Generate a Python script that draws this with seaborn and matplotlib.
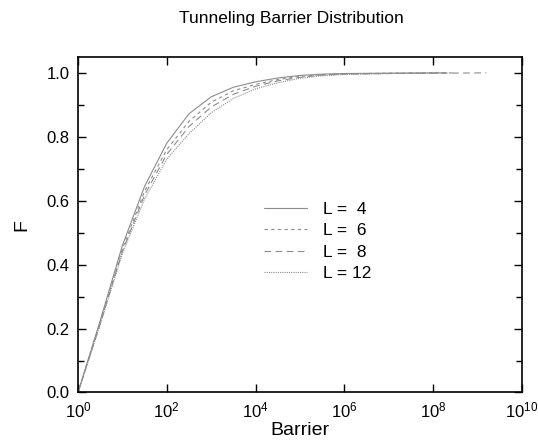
import matplotlib
matplotlib.use("Agg")
import matplotlib.pyplot as plt
import seaborn as sns
import pandas as pd
import numpy as np
from matplotlib.ticker import FixedLocator, MultipleLocator, FormatStrFormatter

# log10(barrier) sample points per system size
logb_4 = [0, 0.5, 1.0, 1.5, 2.0, 2.5, 3.0, 3.5, 4.0, 4.5, 5.0, 5.5, 6.0, 7.0, 8.3]
f_4 = [0.0, 0.225, 0.46, 0.645, 0.78, 0.872, 0.925, 0.955, 0.972, 0.984, 0.992, 0.996, 0.998, 0.999, 1.0]

logb_6 = [0, 0.5, 1.0, 1.5, 2.0, 2.5, 3.0, 3.5, 4.0, 4.5, 5.0, 5.5, 6.0, 7.0, 8.5]
f_6 = [0.0, 0.218, 0.449, 0.63, 0.76, 0.848, 0.908, 0.944, 0.964, 0.979, 0.989, 0.994, 0.997, 0.999, 1.0]

logb_8 = [0, 0.5, 1.0, 1.5, 2.0, 2.5, 3.0, 3.5, 4.0, 4.5, 5.0, 5.5, 6.0, 7.0, 8.0, 9.2]
f_8 = [0.0, 0.215, 0.442, 0.618, 0.745, 0.832, 0.893, 0.933, 0.958, 0.975, 0.986, 0.993, 0.996, 0.998, 0.999, 1.0]

logb_12 = [0, 0.5, 1.0, 1.5, 2.0, 2.5, 3.0, 3.5, 4.0, 4.5, 5.0, 5.5, 6.0, 7.0, 8.1]
f_12 = [0.0, 0.212, 0.435, 0.605, 0.73, 0.81, 0.875, 0.92, 0.95, 0.969, 0.983, 0.991, 0.995, 0.998, 1.0]

labels = ["L =  4", "L =  6", "L =  8", "L = 12"]
decades = [0, 2, 4, 6, 8, 10]

frames = []
for lab, lx, fv in zip(labels, [logb_4, logb_6, logb_8, logb_12], [f_4, f_6, f_8, f_12]):
    frames.append(pd.DataFrame({"barrier": 10.0 ** np.array(lx), "F": fv, "size": lab}))
df = pd.concat(frames, ignore_index=True)

sns.set_style("ticks")
plt.rcParams["font.family"] = ["Liberation Sans", "DejaVu Sans"]
plt.rcParams["mathtext.fontset"] = "custom"
plt.rcParams["mathtext.rm"] = "Liberation Sans"
plt.rcParams["mathtext.it"] = "Liberation Sans"

fig = plt.figure(figsize=(5.38, 4.41), dpi=100)
ax = fig.add_axes([0.145, 0.110, 0.825, 0.761])

dashes = {labels[0]: "", labels[1]: (3, 3), labels[2]: (6, 4), labels[3]: (1, 1)}
palette = {lab: "#8c8c8c" for lab in labels}
sns.lineplot(data=df, x="barrier", y="F", hue="size", style="size",
             palette=palette, dashes=dashes, linewidth=0.8, ax=ax, sort=False)

ax.set_xscale("log")
ax.set_xlim(1, 1e10)
ax.set_ylim(0, 1.05)
ax.xaxis.set_major_locator(FixedLocator([10.0 ** k for k in decades]))
ax.xaxis.set_minor_locator(FixedLocator([]))
ax.set_xticklabels([r"$\mathregular{10^{%d}}$" % k for k in decades])
ax.yaxis.set_major_locator(MultipleLocator(0.2))
ax.yaxis.set_minor_locator(MultipleLocator(0.1))
ax.yaxis.set_major_formatter(FormatStrFormatter("%.1f"))
ax.tick_params(which="both", direction="in", top=True, right=True, labelsize=12,
               pad=6, color="black", labelcolor="black")
ax.tick_params(which="major", length=6, width=1)
ax.tick_params(which="minor", length=4, width=1)
for s in ax.spines.values():
    s.set_linewidth(1.2)
    s.set_color("black")

ax.set_xlabel("Barrier", fontsize=14, labelpad=1, color="black")
ax.set_ylabel("F", fontsize=14, labelpad=12, color="black")
fig.text(291 / 538, 1 - 18 / 441, "Tunneling Barrier Distribution", ha="center", va="center",
         fontsize=12.5, color="black")

leg = ax.legend(loc="center left", bbox_to_anchor=(0.383, 0.45), frameon=False,
                fontsize=12.5, handlelength=2.5, labelspacing=0.35, handletextpad=0.9)
for t in leg.get_texts():
    t.set_color("black")

fig.savefig("out.png", dpi=100)
